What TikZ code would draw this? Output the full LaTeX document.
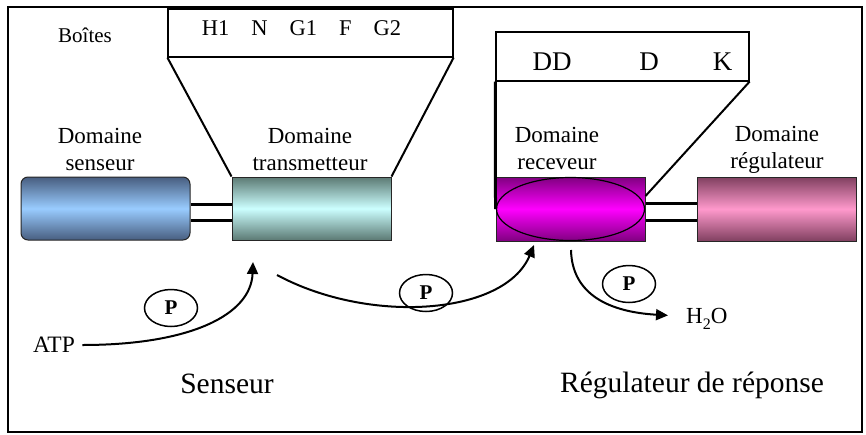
\documentclass[tikz,border=0pt]{standalone}
\usepackage{fontspec}
\setmainfont{Liberation Serif}
\usetikzlibrary{shapes.geometric,arrows.meta}
\definecolor{sensfonce}{RGB}{72,94,128}
\definecolor{sensclair}{RGB}{153,204,255}
\definecolor{transfonce}{RGB}{92,122,116}
\definecolor{transclair}{RGB}{204,255,255}
\definecolor{recfonce}{RGB}{128,0,128}
\definecolor{recclair}{RGB}{255,0,255}
\definecolor{regfonce}{RGB}{128,64,96}
\definecolor{regclair}{RGB}{255,153,204}
\begin{document}
\begin{tikzpicture}[x=1pt,y=-1pt,
    domaine/.style={draw=black!85, line width=1pt, minimum height=63pt, inner sep=0pt},
    boite/.style={draw, line width=1.2pt, minimum height=48pt, inner sep=0pt},
    etiquette/.style={font=\fontsize{23}{27}\selectfont, align=center},
    phos/.style={draw, ellipse, line width=1.5pt, minimum width=53pt, minimum height=37pt, inner sep=0pt, font=\fontsize{21}{24}\selectfont\bfseries},
    fleche/.style={-{Triangle[length=12pt,width=11pt]}, line width=2pt},
    liaison/.style={line width=3pt}]
        \useasboundingbox (0,0) rectangle (866,434);
        \draw[line width=1.3pt] (8,7) rectangle (862,432);
        \node[domaine, rounded corners=7pt, minimum width=169pt, top color=sensfonce, bottom color=sensfonce, middle color=sensclair] (senseur) at (105.5,208.5) {};
        \node[domaine, minimum width=159pt, top color=transfonce, bottom color=transfonce, middle color=transclair] (transmetteur) at (311.5,208.5) {};
        \node[domaine, minimum width=149pt, minimum height=64pt, top color=recfonce, bottom color=recfonce, middle color=recclair] (receveur) at (570.5,209) {};
        \node[domaine, minimum width=159pt, minimum height=64pt, top color=regfonce, bottom color=regfonce, middle color=regclair] (regulateur) at (776.5,209) {};
        \node[draw, ellipse, line width=1.2pt, minimum width=148pt, minimum height=63pt, inner sep=0pt] (ovale) at (receveur) {};
        \draw[liaison] ([yshift=4pt]senseur.east) -- ([yshift=4pt]transmetteur.west);
        \draw[liaison] ([yshift=-11.5pt]senseur.east) -- ([yshift=-11.5pt]transmetteur.west);
        \draw[liaison] ([yshift=6pt]receveur.east) -- ([yshift=6pt]regulateur.west);
        \draw[liaison] ([yshift=-11pt]receveur.east) -- ([yshift=-11pt]regulateur.west);
        \node[boite, minimum width=285pt] (boiteT) at (310.5,33) {};
        \node[boite, minimum width=253pt, minimum height=49pt] (boiteR) at (622.5,56.5) {};
        \draw[line width=2pt] (boiteT.south west) -- (transmetteur.north west);
        \draw[line width=2pt] (boiteT.south east) -- (transmetteur.north east);
        \draw[line width=3pt] (boiteR.south west) -- (receveur.west);
        \draw[line width=2pt] (boiteR.south east) -- ([yshift=13pt]receveur.east);
        \node[font=\fontsize{21}{24}\selectfont, anchor=base] (boites) at (85,42) {Boîtes};
        \node[font=\fontsize{22.5}{26}\selectfont, anchor=base] (modulesT) at (301.5,35) {H1\hspace{22pt}N\hspace{22pt}G1\hspace{22pt}F\hspace{22pt}G2};
        \node[font=\fontsize{27}{30}\selectfont, anchor=base] (dd) at (552,70) {DD};
        \node[font=\fontsize{27}{30}\selectfont, anchor=base] (d) at (649,70) {D};
        \node[font=\fontsize{27}{30}\selectfont, anchor=base] (k) at (722.5,70) {K};
        \node[etiquette] (lsenseur) at (100,149) {Domaine\\senseur};
        \node[etiquette] (ltransmetteur) at (310,149) {Domaine\\transmetteur};
        \node[etiquette] (lreceveur) at (557,148) {Domaine\\receveur};
        \node[etiquette] (lregulateur) at (777,150) {Domaine\\régulateur};
        \node[phos] (p1) at (171,308) {P};
        \node[phos] (p2) at (426,293) {P};
        \node[phos] (p3) at (629,284) {P};
        \node[font=\fontsize{23.5}{27}\selectfont] (atp) at (54,345) {ATP};
        \node[font=\fontsize{23}{26}\selectfont, anchor=base west, inner sep=0pt] (eau) at (686,323) {H\raisebox{-6pt}{\fontsize{16}{18}\selectfont 2}O};
        \node[font=\fontsize{29.5}{34}\selectfont, anchor=base] (lsens) at (227,393) {Senseur};
        \node[font=\fontsize{29.5}{34}\selectfont, anchor=base] (lreg) at (692,392) {Régulateur de réponse};
        \coordinate (entreeT) at (253,262);
        \coordinate (sortieT) at (277,275);
        \coordinate (entreeR) at (534,245);
        \coordinate (sortieR) at (571,250);
        \draw[fleche] ([xshift=4pt]atp.east) .. controls (190,345) and (251,315) .. (entreeT);
        \draw[fleche] (sortieT) .. controls (370,325) and (505,315) .. (entreeR);
        \draw[fleche] (sortieR) .. controls (572,295) and (610,312) .. ([xshift=-18pt,yshift=3pt]eau.west);
\end{tikzpicture}
\end{document}
